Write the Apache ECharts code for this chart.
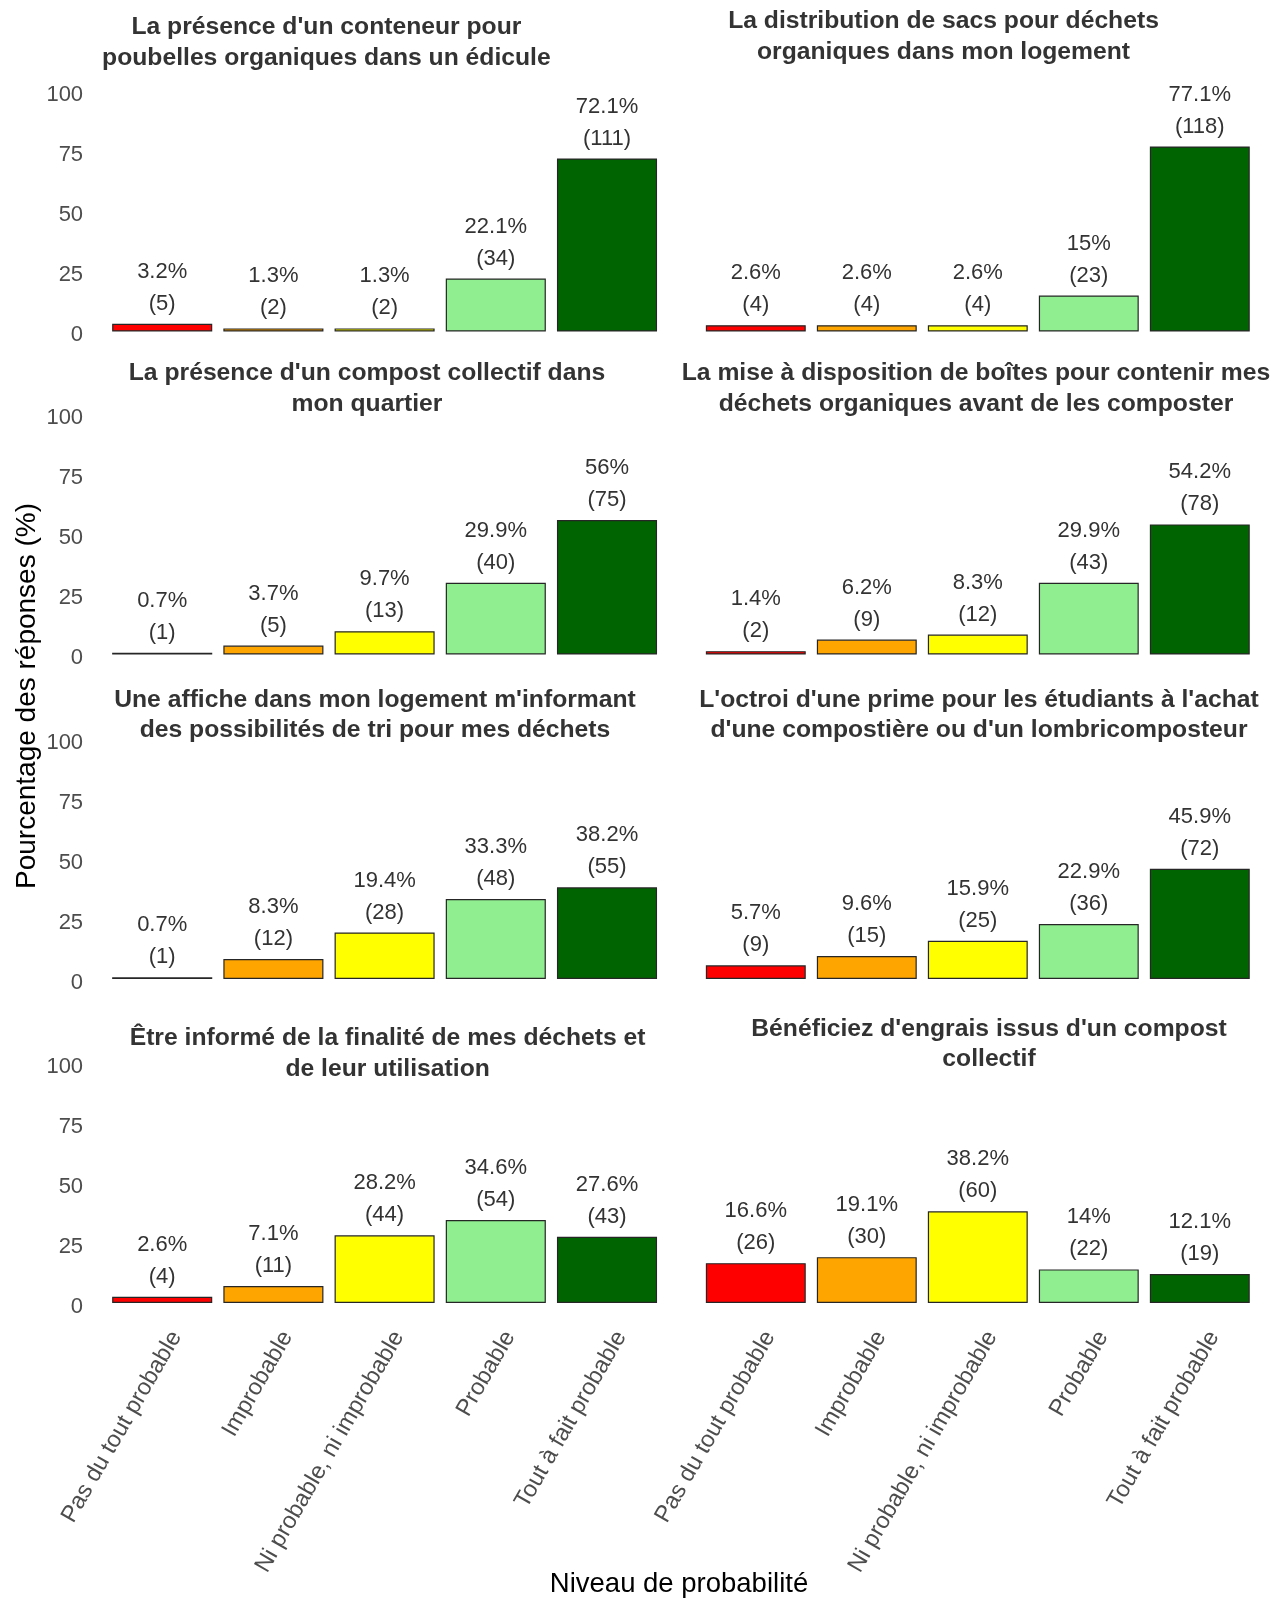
<!DOCTYPE html>
<html>
<head>
<meta charset="utf-8">
<script src="https://cdn.jsdelivr.net/npm/echarts@6/dist/echarts.min.js"></script>
<style>
html,body{margin:0;padding:0;background:#fff;}
#chart{width:1279px;height:1599px;}
</style>
</head>
<body>
<div id="chart"></div>
<script>
const categories = ['Pas du tout probable', 'Improbable', 'Ni probable, ni improbable', 'Probable', 'Tout à fait probable'];
const barColors = ['#FF0000', '#FFA500', '#FFFF00', '#90EE90', '#006400'];
const yTicks = [0, 25, 50, 75, 100];

const panelTitles = [
  "La présence d'un conteneur pour\npoubelles organiques dans un édicule",
  "La distribution de sacs pour déchets\norganiques dans mon logement",
  "La présence d'un compost collectif dans\nmon quartier",
  "La mise à disposition de boîtes pour contenir mes\ndéchets organiques avant de les composter",
  "Une affiche dans mon logement m'informant\ndes possibilités de tri pour mes déchets",
  "L'octroi d'une prime pour les étudiants à l'achat\nd'une compostière ou d'un lombricomposteur",
  "Être informé de la finalité de mes déchets et\nde leur utilisation",
  "Bénéficiez d'engrais issus d'un compost\ncollectif"
];

const pct1 = [3.2, 1.3, 1.3, 22.1, 72.1];
const cnt1 = [5, 2, 2, 34, 111];
const pct2 = [2.6, 2.6, 2.6, 15, 77.1];
const cnt2 = [4, 4, 4, 23, 118];
const pct3 = [0.7, 3.7, 9.7, 29.9, 56];
const cnt3 = [1, 5, 13, 40, 75];
const pct4 = [1.4, 6.2, 8.3, 29.9, 54.2];
const cnt4 = [2, 9, 12, 43, 78];
const pct5 = [0.7, 8.3, 19.4, 33.3, 38.2];
const cnt5 = [1, 12, 28, 48, 55];
const pct6 = [5.7, 9.6, 15.9, 22.9, 45.9];
const cnt6 = [9, 15, 25, 36, 72];
const pct7 = [2.6, 7.1, 28.2, 34.6, 27.6];
const cnt7 = [4, 11, 44, 54, 43];
const pct8 = [16.6, 19.1, 38.2, 14, 12.1];
const cnt8 = [26, 30, 60, 22, 19];

const pcts = [pct1, pct2, pct3, pct4, pct5, pct6, pct7, pct8];
const cnts = [cnt1, cnt2, cnt3, cnt4, cnt5, cnt6, cnt7, cnt8];

// layout
const colLeft = [106.6, 700.3];
const colWidth = [556, 555];
const plotH = 240;
const rowZero = [331.5, 654.5, 979, 1303];
const titleCenter = [326.4, 943.5, 367, 976, 375, 979, 387.6, 989];
const titleTop = [12.2, 6.1, 358, 358, 684.4, 684.4, 1023, 1013.7];

const FONT = 'Liberation Sans, Arial, Helvetica, sans-serif';

const grids = [], xAxes = [], yAxes = [], series = [], titles = [];
for (let i = 0; i < 8; i++) {
  const r = Math.floor(i / 2), c = i % 2;
  grids.push({ left: colLeft[c], top: rowZero[r] - plotH, width: colWidth[c], height: plotH, containLabel: false });
  xAxes.push({
    type: 'category', gridIndex: i, data: categories,
    axisLine: { show: false }, axisTick: { show: false },
    axisLabel: {
      show: r === 3, rotate: 60, interval: 0, margin: 22, verticalAlign: 'top', padding: [4, 0, 0, 0],
      fontSize: 23.5, color: '#4D4D4D', fontFamily: FONT
    }
  });
  yAxes.push({
    type: 'value', gridIndex: i, min: 0, max: 100, interval: 25,
    axisLine: { show: false }, axisTick: { show: false }, splitLine: { show: false },
    axisLabel: {
      show: c === 0, fontSize: 22, color: '#4D4D4D', margin: 23.5, fontFamily: FONT,
      verticalAlign: 'top', lineHeight: 7
    }
  });
  const cnt = cnts[i];
  series.push({
    type: 'bar', xAxisIndex: i, yAxisIndex: i,
    barCategoryGap: '10%',
    data: pcts[i].map((v, k) => ({ value: v, itemStyle: { color: barColors[k] } })),
    itemStyle: { borderColor: '#262626', borderWidth: 1.2 },
    label: {
      show: true, position: 'top', distance: 4,
      fontSize: 22, lineHeight: 32, color: '#333333', fontFamily: FONT,
      formatter: (p) => p.value + '%\n(' + cnt[p.dataIndex] + ')'
    },
    silent: true, animation: false
  });
  titles.push({
    text: panelTitles[i], left: titleCenter[i], top: titleTop[i], textAlign: 'center', padding: 0,
    textStyle: { fontSize: 24.7, fontWeight: 'bold', color: '#333333', lineHeight: 30.6, fontFamily: FONT }
  });
}

const chart = echarts.init(document.getElementById('chart'), null, { renderer: 'canvas' });
chart.setOption({
  animation: false,
  backgroundColor: '#ffffff',
  title: titles,
  grid: grids,
  xAxis: xAxes,
  yAxis: yAxes,
  series: series,
  graphic: [
    {
      type: 'text', position: [27, 696], rotation: Math.PI / 2,
      style: {
        text: 'Pourcentage des réponses (%)', fontSize: 28, fill: '#000000',
        fontFamily: FONT, textAlign: 'center', textVerticalAlign: 'middle'
      }
    },
    {
      type: 'text', position: [679, 1584],
      style: {
        text: 'Niveau de probabilité', fontSize: 27.5, fill: '#000000',
        fontFamily: FONT, textAlign: 'center', textVerticalAlign: 'middle'
      }
    }
  ]
});
</script>
</body>
</html>
